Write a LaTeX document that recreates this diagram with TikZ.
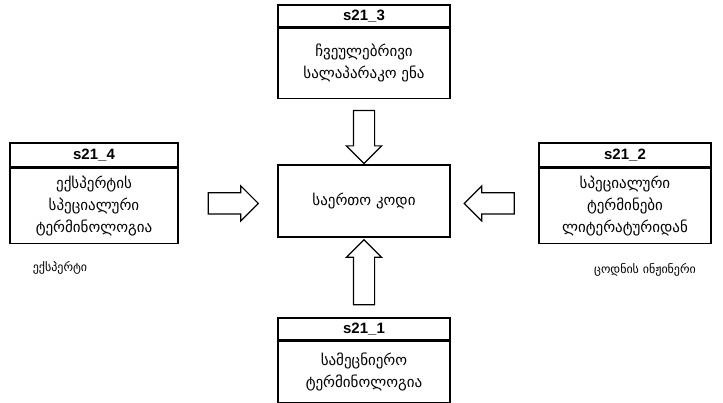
\documentclass[tikz,border=0pt]{standalone}
\usepackage{fontspec}
\newfontfamily\geo{DejaVu Sans}
\newfontfamily\hdr{Liberation Sans}
\usetikzlibrary{positioning,calc,shapes.arrows}

\begin{document}
\begin{tikzpicture}[
      x=1pt, y=-1pt,
      font=\geo\fontsize{15}{22}\selectfont,
      head/.style={draw, line width=1.4pt, minimum width=172pt, minimum height=22pt,
                   inner sep=0pt, font=\hdr\bfseries\fontsize{15}{17}\selectfont},
      body/.style={draw, line width=1.4pt, minimum width=172pt, inner sep=0pt, align=center},
      bigarrow/.style={single arrow, draw, line width=1.2pt, inner sep=10pt,
                       single arrow head extend=7pt, single arrow tip angle=90},
      note/.style={font=\geo\fontsize{12}{14}\selectfont},
    ]
    \useasboundingbox (0,0) rectangle (723,403);
    \node[body, minimum height=72pt] (c) at (364,201) {საერთო კოდი};
    % top
    \node[head] (h3) at (364,16) {s21\_3};
    \node[body, minimum height=70pt, below=0pt of h3] (b3) {ჩვეულებრივი\\სალაპარაკო ენა};
    % bottom
    \node[head] (h1) at (364,329) {s21\_1};
    \node[body, minimum height=61pt, below=0pt of h1] (b1) {სამეცნიერო\\ტერმინოლოგია};
    % left
    \node[head, minimum width=168pt, minimum height=24pt] (h4) at (94,155) {s21\_4};
    \node[body, minimum width=168pt, minimum height=75pt, below=0pt of h4] (b4)
         {ექსპერტის\\სპეციალური\\ტერმინოლოგია};
    % right
    \node[head, minimum height=24pt] (h2) at (625,155) {s21\_2};
    \node[body, minimum height=75pt, below=0pt of h2] (b2)
         {სპეციალური\\ტერმინები\\ლიტერატურიდან};
    % arrows
    \node[bigarrow, minimum height=53pt, shape border rotate=270] (a3)
         at ($(b3.south)!0.5!(c.north)$) {};
    \node[bigarrow, minimum height=65pt, shape border rotate=90] (a1)
         at ($(c.south)!0.5!(h1.north)$) {};
    \node[bigarrow, minimum height=50pt] (a4)
         at ($(b4.east)!0.5!(c.west)$) {};
    \node[bigarrow, minimum height=50pt, shape border rotate=180] (a2)
         at ($(c.east)!0.5!(b2.west)$) {};
    % labels
    \node[note] (lexp) at (60,268) {ექსპერტი};
    \node[note] (leng) at (645,270) {ცოდნის ინჟინერი};
  \end{tikzpicture}
\end{document}
